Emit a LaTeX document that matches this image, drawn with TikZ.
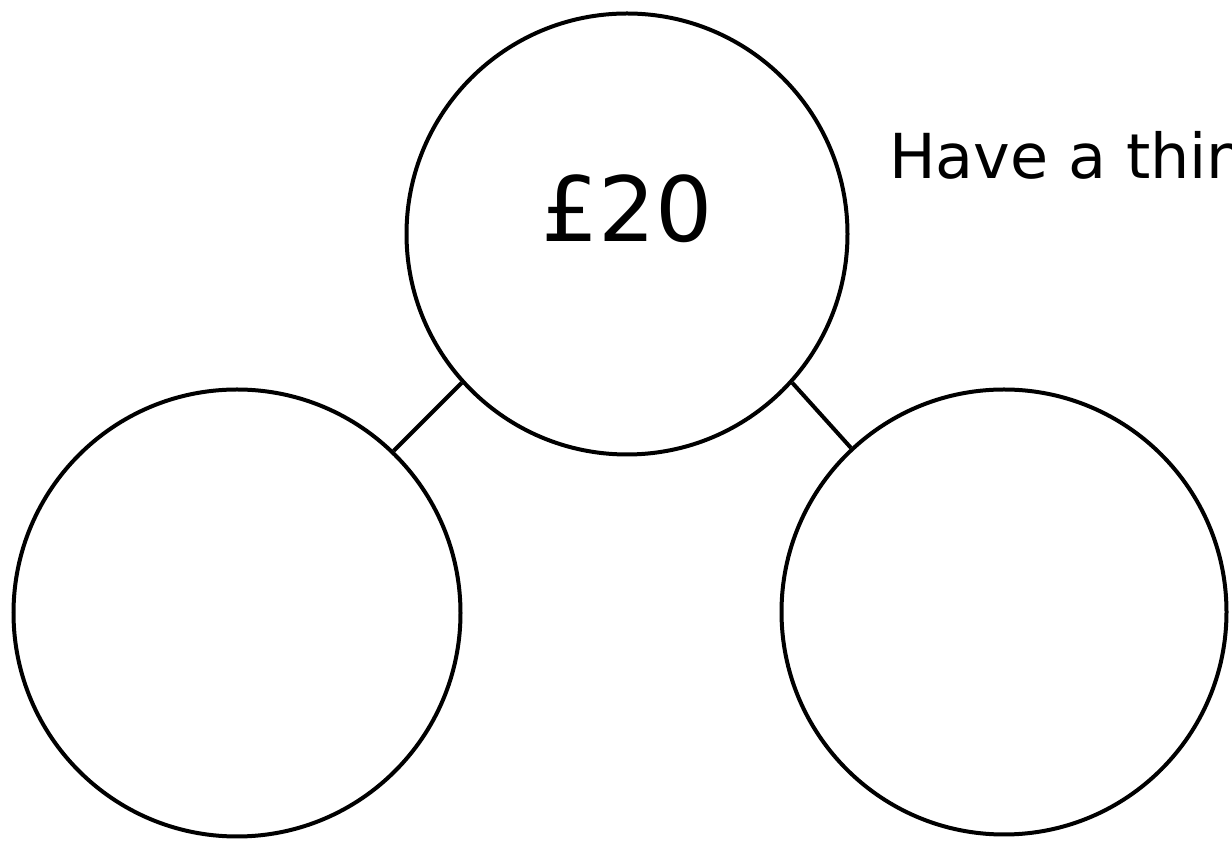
\documentclass[tikz,border=0pt]{standalone}
\usepackage{fontspec}
\setmainfont{DejaVu Sans}
\begin{document}
\begin{tikzpicture}[x=1pt,y=1pt,
  bubble/.style={circle,draw=black,line width=4pt,inner sep=0pt},
  link/.style={draw=black,line width=4pt}]
\useasboundingbox (0,0) rectangle (1232,843);
\node[bubble,minimum size=441pt] (top) at (627,609) {};
\node[bubble,minimum size=447pt] (left) at (237,230) {};
\node[bubble,minimum size=445pt] (right) at (1004,231) {};
\node[anchor=base,font=\fontsize{90}{100}\selectfont,inner sep=0pt] (price) at (627,601) {£20};
\node[anchor=base west,font=\fontsize{62}{70}\selectfont,inner sep=0pt] (think) at (889,664) {Have a thin};
\draw[link] (top.222) -- (left.46);
\draw[link] (top.318) -- (right.133);
\end{tikzpicture}
\end{document}
